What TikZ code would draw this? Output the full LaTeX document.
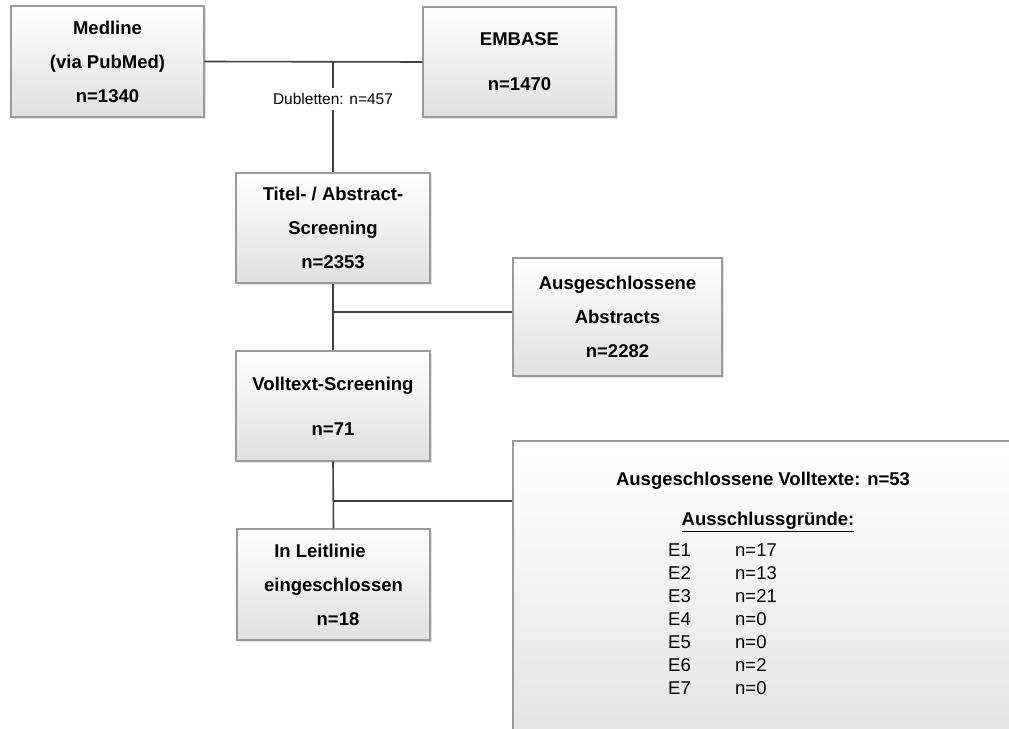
\documentclass[tikz,border=0pt]{standalone}
\usepackage{fontspec}
\setmainfont{Liberation Sans}
\usetikzlibrary{shadows}

\definecolor{boxline}{HTML}{9A9A9A}
\definecolor{linkline}{HTML}{404040}
\definecolor{boxbottom}{HTML}{E0E0E0}

\tikzset{
  flowbox/.style 2 args={
    draw=boxline, line width=1.1pt,
    top color=white, bottom color=boxbottom,
    minimum width=#1pt, minimum height=#2pt, inner sep=0pt,
    align=center,
    font=\bfseries\fontsize{18.5}{34}\selectfont,
    drop shadow={shadow xshift=1.5pt, shadow yshift=-1.5pt, opacity=0.22}
  },
  link/.style={draw=linkline, line width=1.6pt},
  listtext/.style={font=\fontsize{18.5}{23}\selectfont, inner sep=0pt},
}

\begin{document}
\begin{tikzpicture}[x=1pt, y=-1pt]
  \useasboundingbox (0,0) rectangle (1009,728);
  \fill[white] (0,0) rectangle (1009,728);

  % Sources
  \node[flowbox={193}{111}] (medline) at (107.5,61.5) {Medline\\(via PubMed)\\n=1340};
  \node[flowbox={193}{110}] (embase) at (519.5,62) {EMBASE\\[11pt]n=1470};

  % Screening stages
  \node[flowbox={194}{110}] (titel) at (333,228) {Titel- / Abstract-\\Screening\\n=2353};
  \node[flowbox={209}{118}] (abstracts) at (617.5,317) {Ausgeschlossene\\Abstracts\\n=2282};
  \node[flowbox={194}{110}] (volltext) at (333,406) {Volltext-Screening\\[11pt]n=71};
  \node[flowbox={193}{111}] (leitlinie) at (333.5,584.5)
    {In Leitlinie\hspace*{27pt}\\eingeschlossen\\\hspace*{9pt}n=18};

  % Excluded full texts (runs past the right and bottom edges)
  \begin{scope}
    \clip (0,0) rectangle (1009,728);
    \node[flowbox={547}{349}] (volltextaus) at (786.5,615.5) {};
  \end{scope}
  \node[font=\bfseries\fontsize{18.5}{22}\selectfont, inner sep=0pt] (ausvoll) at (763,481)
    {Ausgeschlossene Volltexte: n=53};
  \node[font=\bfseries\fontsize{18.5}{22}\selectfont, inner sep=0pt] (gruende) at (768,522)
    {\underline{Ausschlussgründe:}};
  \node[listtext, anchor=west] (liste) at (668,621)
    {\begin{tabular}{@{}p{67pt}@{}l@{}}
      E1 & n=17\\
      E2 & n=13\\
      E3 & n=21\\
      E4 & n=0\\
      E5 & n=0\\
      E6 & n=2\\
      E7 & n=0
    \end{tabular}};

  % Connectors
  \coordinate (j1) at (medline.east -| titel.north);
  \coordinate (j2) at (333,312);
  \coordinate (j3) at (333,501);
  \node[font=\fontsize{15.5}{18}\selectfont, fill=white, inner xsep=1pt, inner ysep=5pt] (dub) at (333,99)
    {Dubletten: n=457};

  \draw[link] (medline.east) -- (embase.west);
  \draw[link] (j1) -- (dub.north);
  \draw[link] (dub.south) -- (titel.north);
  \draw[link] (titel.south) -- (volltext.north);
  \draw[link] (j2) -- (j2 -| abstracts.west);
  \draw[link] (volltext.south) -- (leitlinie.north);
  \draw[link] (j3) -- (j3 -| volltextaus.west);
\end{tikzpicture}
\end{document}
